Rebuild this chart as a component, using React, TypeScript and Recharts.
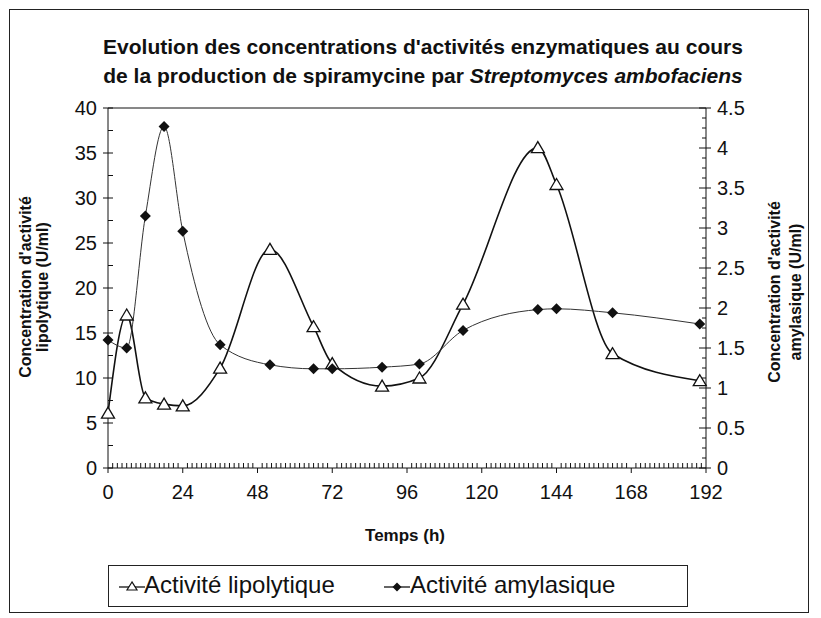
import React from 'react';
import { LineChart, Line, XAxis, YAxis, ReferenceLine } from 'recharts';

// sampling times (h) and measured activities
const hours = [0, 6, 12, 18, 24, 36, 52, 66, 72, 88, 100, 114, 138, 144, 162, 190];
const lipolytique = [6.1, 17, 7.8, 7.1, 6.9, 11.1, 24.3, 15.7, 11.6, 9.1, 10, 18.2, 35.6, 31.5, 12.7, 9.7];
const amylasique = [1.6, 1.5, 3.15, 4.27, 2.96, 1.54, 1.29, 1.24, 1.24, 1.26, 1.3, 1.72, 1.98, 1.99, 1.94, 1.8];

const xLabels = [0, 24, 48, 72, 96, 120, 144, 168, 192];
const leftLabels = [0, 5, 10, 15, 20, 25, 30, 35, 40];
const rightLabels = [0, 0.5, 1, 1.5, 2, 2.5, 3, 3.5, 4, 4.5];

// minor tick marks
const xTicks = Array.from({ length: 129 }, (_, i) => i * 1.5);
const leftTicks = Array.from({ length: 17 }, (_, i) => i * 2.5);
const rightTicks = Array.from({ length: 37 }, (_, i) => i * 0.125);

const data = hours.map((t, i) => ({ t, lipo: lipolytique[i], amyl: amylasique[i] }));

const FONT = '"Liberation Sans", Arial, sans-serif';
const INK = '#111';

const BottomTick = ({ x, y, payload }: any) => {
  const v = payload.value;
  const major = xLabels.includes(v);
  return (
    <g>
      {major ? (
        <>
          <line x1={x} x2={x} y1={y} y2={y + 5} stroke={INK} />
          <text x={x} y={y + 31} textAnchor="middle" fontSize={20} fill={INK} fontFamily={FONT}>{v}</text>
        </>
      ) : (
        <line x1={x} x2={x} y1={y} y2={y - 5} stroke={INK} />
      )}
    </g>
  );
};

const LeftTick = ({ x, y, payload }: any) => {
  const v = payload.value;
  const major = leftLabels.includes(v);
  return (
    <g>
      <line x1={x} x2={x + 5} y1={y} y2={y} stroke={INK} />
      {major && (
        <>
          <line x1={x - 5} x2={x} y1={y} y2={y} stroke={INK} />
          <text x={x - 11} y={y + 7} textAnchor="end" fontSize={20} fill={INK} fontFamily={FONT}>{v}</text>
        </>
      )}
    </g>
  );
};

const RightTick = ({ x, y, payload }: any) => {
  const v = payload.value;
  const major = rightLabels.includes(v);
  return (
    <g>
      <line x1={x - (major ? 7 : 4)} x2={x} y1={y} y2={y} stroke={INK} />
      {major && (
        <>
          <line x1={x} x2={x + 5} y1={y} y2={y} stroke={INK} />
          <text x={x + 11} y={y + 7} textAnchor="start" fontSize={20} fill={INK} fontFamily={FONT}>{v}</text>
        </>
      )}
    </g>
  );
};

const TriangleDot = ({ cx, cy }: any) => (
  <polygon points={`${cx},${cy - 6} ${cx - 6.5},${cy + 5} ${cx + 6.5},${cy + 5}`} fill="#fff" stroke={INK} strokeWidth={1.3} />
);

const DiamondDot = ({ cx, cy }: any) => (
  <polygon points={`${cx},${cy - 5.5} ${cx + 5.5},${cy} ${cx},${cy + 5.5} ${cx - 5.5},${cy}`} fill={INK} />
);

const rotated = (left: number, top: number, size: number, gap: number, lines: string[]) => (
  <div
    style={{
      position: 'absolute', left, top, transform: 'translate(-50%, -50%) rotate(-90deg)',
      whiteSpace: 'nowrap', textAlign: 'center', fontWeight: 'bold', fontSize: size, lineHeight: `${gap}px`,
      fontFamily: FONT, color: INK,
    }}
  >
    {lines.map((l) => <div key={l}>{l}</div>)}
  </div>
);

export default function App() {
  return (
    <div style={{ position: 'absolute', left: 0, top: 0, width: 821, height: 618, background: '#fff', fontFamily: FONT }}>
      <div style={{ position: 'absolute', left: 9, top: 9, width: 798, height: 602, border: '1px solid #222' }} />
      <div style={{ position: 'absolute', left: 23, top: 32, width: 800, textAlign: 'center', fontWeight: 'bold', fontSize: 21, lineHeight: '29px', color: INK }}>
        Evolution des concentrations d'activités enzymatiques au cours
        <br />
        de la production de spiramycine par <i>Streptomyces ambofaciens</i>
      </div>
      <LineChart width={821} height={618} data={data} margin={{ top: 108, right: 0, bottom: 0, left: 0 }} style={{ position: 'absolute', left: 0, top: 0 }}>
        <XAxis
          dataKey="t" type="number" domain={[0, 192]} ticks={xTicks} interval={0} height={150}
          tickSize={0} tickMargin={0} tickLine={false} tick={<BottomTick />} axisLine={{ stroke: INK }}
        />
        <YAxis
          yAxisId="left" orientation="left" type="number" domain={[0, 40]} ticks={leftTicks} interval={0} width={108}
          tickSize={0} tickMargin={0} tickLine={false} tick={<LeftTick />} axisLine={{ stroke: INK }}
        />
        <YAxis
          yAxisId="right" orientation="right" type="number" domain={[0, 4.5]} ticks={rightTicks} interval={0} width={115}
          tickSize={0} tickMargin={0} tickLine={false} tick={<RightTick />} axisLine={{ stroke: INK }}
        />
        <ReferenceLine yAxisId="left" y={40} stroke={INK} />
        <Line
          yAxisId="left" type="monotone" dataKey="lipo" stroke={INK} strokeWidth={1.6}
          dot={(p: any) => <TriangleDot key={`l${p.index}`} cx={p.cx} cy={p.cy} />} isAnimationActive={false}
        />
        <Line
          yAxisId="right" type="monotone" dataKey="amyl" stroke="#333" strokeWidth={1}
          dot={(p: any) => <DiamondDot key={`a${p.index}`} cx={p.cx} cy={p.cy} />} isAnimationActive={false}
        />
      </LineChart>
      <div style={{ position: 'absolute', left: 405, top: 536, transform: 'translate(-50%, -50%)', fontWeight: 'bold', fontSize: 17, color: INK }}>
        Temps (h)
      </div>
      {rotated(34, 287, 16, 17, ["Concentration d'activité", 'lipolytique (U/ml)'])}
      {rotated(785, 292, 16, 21, ["Concentration d'activité", 'amylasique (U/ml)'])}
      <div style={{ position: 'absolute', left: 108, top: 565, width: 578, height: 40, border: '1.5px solid #222', fontSize: 24, color: INK }}>
        <svg width={30} height={20} style={{ position: 'absolute', left: 8, top: 9 }}>
          <line x1={2} x2={28} y1={12} y2={12} stroke={INK} strokeWidth={1.3} />
          <polygon points="15,7 10,15 20,15" fill="#fff" stroke={INK} strokeWidth={1.2} />
        </svg>
        <span style={{ position: 'absolute', left: 35, top: 5, lineHeight: '28px' }}>Activité lipolytique</span>
        <svg width={30} height={20} style={{ position: 'absolute', left: 273, top: 9 }}>
          <line x1={2} x2={28} y1={12} y2={12} stroke={INK} strokeWidth={1.3} />
          <polygon points="15,7.5 19.5,12 15,16.5 10.5,12" fill={INK} />
        </svg>
        <span style={{ position: 'absolute', left: 301, top: 5, lineHeight: '28px' }}>Activité amylasique</span>
      </div>
    </div>
  );
}
